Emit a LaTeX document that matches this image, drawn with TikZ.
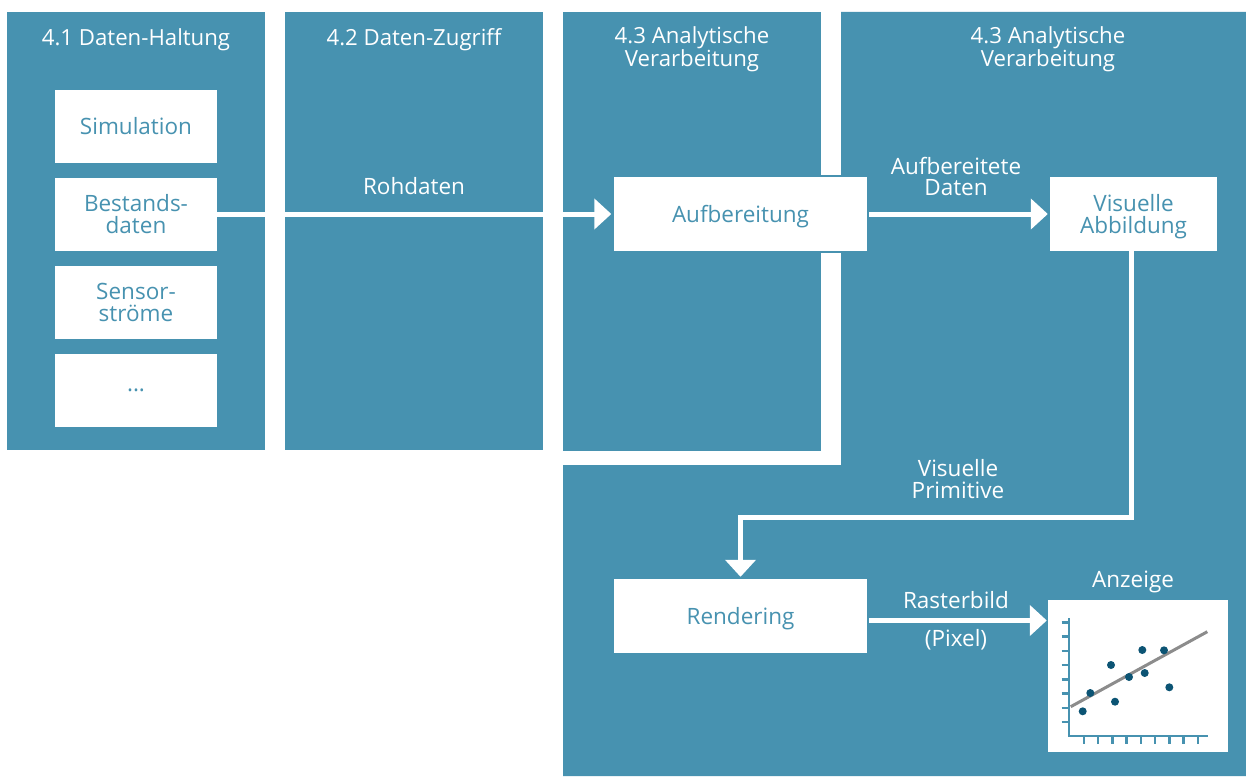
\documentclass[tikz,border=0pt]{standalone}
\usepackage{fontspec}
\setmainfont{Open Sans}
\usetikzlibrary{arrows.meta}
\definecolor{panel}{RGB}{71,146,176}
\definecolor{dotc}{RGB}{12,84,116}
\definecolor{trend}{RGB}{140,140,140}
\newcommand{\titlefont}{\fontsize{22.2}{21.5}\selectfont}
\newcommand{\labelfont}{\fontsize{22.5}{21.8}\selectfont}
\begin{document}
\begin{tikzpicture}[x=1pt,y=-1pt,
  paneltitle/.style={text=white, align=center, inner sep=0pt, font=\titlefont},
  flowlabel/.style={text=white, align=center, inner sep=0pt, font=\labelfont},
  stepbox/.style={fill=white, text=panel, align=center, inner sep=0pt, text depth=0pt, font=\labelfont},
  flow/.style={draw=white, line width=5pt, -{Triangle[length=17pt,width=30pt]}},
  axisline/.style={draw=panel, line width=2.5pt},
  dotmark/.style={fill=dotc}]

\useasboundingbox (0,0) rectangle (1246,776);

% four layer panels
\fill[panel] (7,12) rectangle (265,450);
\fill[panel] (285,12) rectangle (543,450);
\fill[panel] (563,12) rectangle (821,451);
\fill[panel] (841,12) -- (1246,12) -- (1246,776) -- (563,776) -- (563,465) -- (841,465) -- cycle;
% bridge across the gap behind the Aufbereitung step
\fill[panel] (612,175) rectangle (869,253);

% panel titles
\node[paneltitle] (t1) at (136,40) {4.1 Daten-Haltung};
\node[paneltitle] (t2) at (414,40) {4.2 Daten-Zugriff};
\node[paneltitle] (t3) at (692,49.5) {4.3 Analytische\\Verarbeitung};
\node[paneltitle] (t4) at (1048,49.5) {4.3 Analytische\\Verarbeitung};

% data sources
\node[stepbox, minimum width=162pt, minimum height=73pt] (sim)  at (136,126) {Simulation};
\node[stepbox, minimum width=162pt, minimum height=73pt] (best) at (136,214) {Bestands-\\daten};
\node[stepbox, minimum width=162pt, minimum height=73pt] (sens) at (136,302) {Sensor-\\ströme};
\node[stepbox, minimum width=162pt, minimum height=73pt] (more) at (136,390) {...};

% processing steps
\node[stepbox, minimum width=253pt, minimum height=74pt] (aufb) at (740.5,214) {Aufbereitung};
\node[stepbox, minimum width=167pt, minimum height=74pt] (vis)  at (1133.5,214) {Visuelle\\Abbildung};
\node[stepbox, minimum width=253pt, minimum height=74pt] (rend) at (740.5,616) {Rendering};
\node[fill=white, inner sep=0pt, minimum width=180pt, minimum height=152pt] (anz) at (1138,676) {};

% connectors
\draw[flow, shorten >=2.5pt] (best.east) -- (aufb.west);
\draw[flow, shorten <=2pt, shorten >=2pt] (aufb.east) -- (vis.west);
\draw[flow, shorten >=2pt] ([xshift=-2.5pt]vis.south) -- ++(0,266) -| (rend.north);
\draw[flow, shorten <=2pt, shorten >=1pt] ([yshift=-4.5pt]rend.east) -- ([yshift=-4.5pt]rend.east -| anz.west);

% connector labels
\node[flowlabel] (lroh) at (414,186) {Rohdaten};
\node[flowlabel] (lauf) at (956,176.5) {Aufbereitete\\Daten};
\node[flowlabel] (lprim) at (958,479) {Visuelle\\Primitive};
\node[flowlabel] (lras) at (956,600) {Rasterbild};
\node[flowlabel] (lpix) at (956,640) {(Pixel)};
\node[flowlabel] (lanz) at (1133,582) {Anzeige};

% scatter plot inside the display
\draw[axisline] (1069,618) -- (1069,736) -- (1208,736);
\foreach \k in {0,...,7} \draw[axisline] (1061.5,622.3+14.24*\k) -- (1069,622.3+14.24*\k);
\foreach \k in {0,...,8} \draw[axisline] (1084+14.22*\k,736) -- (1084+14.22*\k,744);
\draw[trend, line width=3pt] (1070.7,706.7) -- (1207.3,631.7);
\foreach \p in {(1082.7,711.3),(1090.3,693),(1111,665),(1115,701.7),(1129,677),(1142.3,650),(1144.7,673),(1164,650.3),(1169.3,687.3)}
  \fill[dotmark] \p circle (4pt);
\end{tikzpicture}
\end{document}
